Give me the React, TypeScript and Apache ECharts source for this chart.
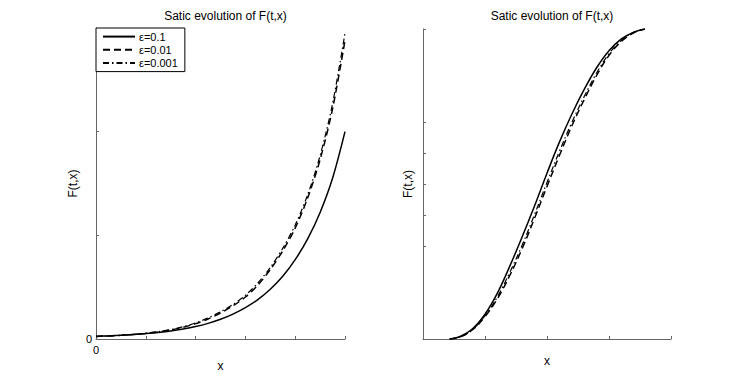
import React, { useEffect, useRef } from "react";
import * as echarts from "echarts";

const titleText = "Satic evolution of F(t,x)";
const seriesNames = ["ε=0.1", "ε=0.01", "ε=0.001"];

// Left panel
const leftX = [0, 0.25, 0.5, 0.75, 1, 1.25, 1.5, 1.75, 2, 2.25, 2.5, 2.75, 3, 3.25, 3.5, 3.75, 4, 4.25, 4.5, 4.75, 5];
const leftSolid = [0.025, 0.03, 0.036, 0.043, 0.052, 0.063, 0.077, 0.096, 0.12, 0.151, 0.19, 0.24, 0.302, 0.38, 0.48, 0.605, 0.765, 0.965, 1.22, 1.55, 2.0];
const leftDashed = [0.025, 0.03, 0.036, 0.044, 0.054, 0.068, 0.087, 0.113, 0.148, 0.193, 0.25, 0.32, 0.405, 0.52, 0.67, 0.85, 1.07, 1.36, 1.73, 2.22, 2.88];
const leftDashDot = [0.025, 0.03, 0.036, 0.045, 0.056, 0.071, 0.091, 0.119, 0.156, 0.203, 0.262, 0.333, 0.422, 0.54, 0.69, 0.875, 1.1, 1.39, 1.77, 2.27, 2.95];

// Right panel
const rightX = [0.43, 0.6, 0.8, 1.0, 1.2, 1.4, 1.6, 1.8, 2.0, 2.2, 2.4, 2.6, 2.8, 3.0, 3.2, 3.4, 3.58];
const rightSolid = [0, 0.08, 0.33, 0.8, 1.48, 2.35, 3.3, 4.3, 5.35, 6.35, 7.25, 8.05, 8.75, 9.3, 9.68, 9.9, 10];
const rightDashed = [0, 0.07, 0.3, 0.72, 1.3, 2.05, 2.92, 3.9, 4.92, 5.92, 6.87, 7.72, 8.5, 9.15, 9.6, 9.88, 10];
const rightDashDot = [0, 0.07, 0.31, 0.75, 1.36, 2.15, 3.03, 4.02, 5.05, 6.05, 6.98, 7.82, 8.58, 9.2, 9.63, 9.89, 10];

const rightYTicks = [3, 4, 5, 6, 7, 10];

const zip = (xs: number[], ys: number[]) => xs.map((x, i) => [x, ys[i]]);

const FONT = "'Liberation Sans', Arial, sans-serif";
const AXIS_COLOR = "#666";

const lineStyles: any[] = [
  { type: "solid", width: 1.5, color: "#000" },
  { type: [7, 4], width: 1.5, color: "#000" },
  { type: [6, 3, 1.5, 3], width: 1.2, color: "#000" },
];

export default function App() {
  const ref = useRef<HTMLDivElement>(null);
  useEffect(() => {
    if (!ref.current) return;
    const chart = echarts.init(ref.current, null, { renderer: "svg" });
    const axisCommon = {
      axisLine: { show: true, lineStyle: { color: AXIS_COLOR, width: 1 } },
      axisTick: { show: true, inside: true, length: 3, lineStyle: { color: AXIS_COLOR } },
      splitLine: { show: false },
      nameTextStyle: { color: "#000", fontSize: 12, fontFamily: FONT },
    };
    const mkSeries = (idx: number, data: number[][], axis: number, smooth: any) => ({
      type: "line",
      name: seriesNames[idx],
      xAxisIndex: axis,
      yAxisIndex: axis,
      data,
      smooth,
      symbol: "none",
      lineStyle: lineStyles[idx],
      itemStyle: { color: "#000" },
      z: 3 - idx,
    });
    chart.setOption({
      animation: false,
      backgroundColor: "#fff",
      title: [
        {
          text: titleText,
          left: 220.5,
          top: 5,
          textAlign: "center",
          textStyle: { fontSize: 12, fontWeight: "normal", color: "#000", fontFamily: FONT },
        },
        {
          text: titleText,
          left: 547,
          top: 5,
          textAlign: "center",
          textStyle: { fontSize: 12, fontWeight: "normal", color: "#000", fontFamily: FONT },
        },
      ],
      legend: {
        left: 96,
        top: 28,
        orient: "vertical",
        borderColor: "#000",
        borderWidth: 1,
        backgroundColor: "#fff",
        padding: [3, 7, 3, 6],
        itemWidth: 32,
        itemHeight: 14,
        itemGap: 2,
        itemStyle: { opacity: 0 },
        textStyle: { fontSize: 11, color: "#000", fontFamily: FONT, padding: [0, 0, 0, -1] },
        data: seriesNames,
      },
      grid: [
        { left: 96, right: 396, top: 28, bottom: 43 },
        { left: 423, right: 70, top: 29, bottom: 43 },
      ],
      xAxis: [
        {
          ...axisCommon,
          gridIndex: 0,
          type: "value",
          min: 0,
          max: 5,
          interval: 1,
          name: "x",
          nameLocation: "middle",
          nameGap: 16,
          axisLabel: {
            margin: 5,
            fontSize: 11,
            color: "#000",
            fontFamily: FONT,
            formatter: (v: number) => (v === 0 ? "0" : ""),
          },
        },
        {
          ...axisCommon,
          gridIndex: 1,
          type: "value",
          min: 0,
          max: 4,
          interval: 1,
          name: "x",
          nameLocation: "middle",
          nameGap: 16,
          axisLabel: { show: false },
        },
      ],
      yAxis: [
        {
          ...axisCommon,
          gridIndex: 0,
          type: "value",
          min: 0,
          max: 3,
          interval: 1,
          name: "F(t,x)",
          nameLocation: "middle",
          nameGap: 17,
          axisLabel: {
            margin: 4,
            fontSize: 11,
            color: "#000",
            fontFamily: FONT,
            formatter: (v: number) => (v === 0 ? "0" : ""),
          },
        },
        {
          ...axisCommon,
          gridIndex: 1,
          type: "value",
          min: 0,
          max: 10,
          interval: 1,
          name: "F(t,x)",
          nameLocation: "middle",
          nameGap: 9,
          axisTick: {
            show: true,
            inside: true,
            length: 3,
            lineStyle: { color: AXIS_COLOR },
            customValues: rightYTicks,
          },
          axisLabel: { show: false },
        },
      ],
      series: [
        mkSeries(0, zip(leftX, leftSolid), 0, 0.3),
        mkSeries(1, zip(leftX, leftDashed), 0, 0.3),
        mkSeries(2, zip(leftX, leftDashDot), 0, 0.3),
        mkSeries(0, zip(rightX, rightSolid), 1, 0.4),
        mkSeries(1, zip(rightX, rightDashed), 1, 0.4),
        mkSeries(2, zip(rightX, rightDashDot), 1, 0.4),
      ],
    });
    return () => chart.dispose();
  }, []);
  return <div ref={ref} style={{ width: 741, height: 382, margin: -8 }} />;
}
